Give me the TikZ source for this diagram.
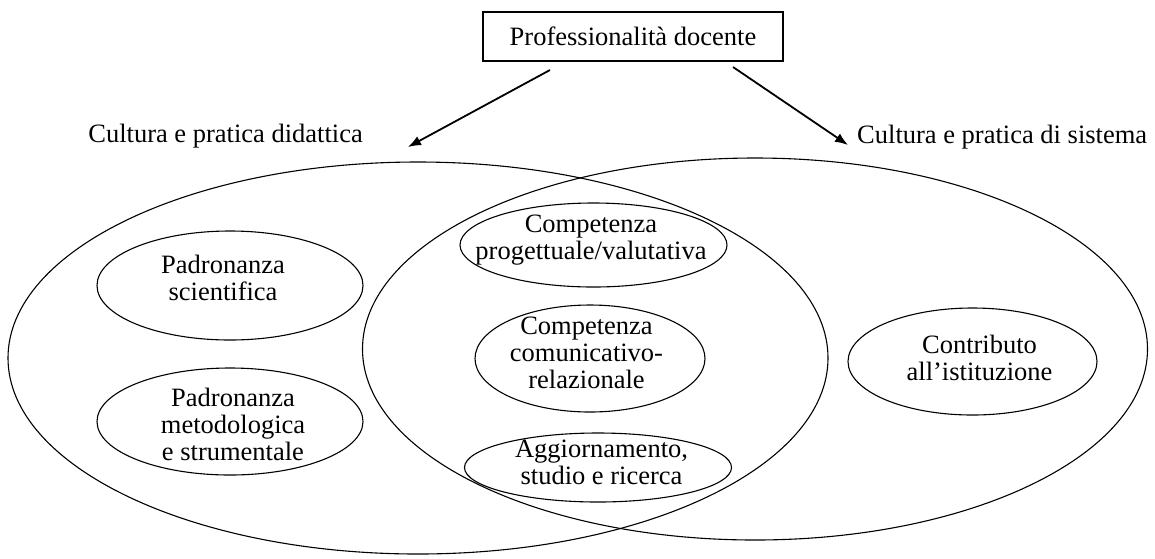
\documentclass[tikz,border=0pt]{standalone}
\usepackage{fontspec}
\setmainfont{Liberation Serif}
\usetikzlibrary{shapes.geometric,arrows.meta}
\begin{document}
\begin{tikzpicture}[x=1pt,y=-1pt,
  txt/.style={font=\fontsize{26.5}{27}\selectfont, align=center, inner sep=0pt},
  oval/.style={draw, ellipse, line width=1.1pt, inner sep=0pt},
  arr/.style={line width=1.8pt, -{Latex[length=13pt,width=10pt]}}]
\useasboundingbox (0,0) rectangle (1155,558);
% title box
\node[draw, line width=1.1pt, minimum width=300pt, minimum height=49pt, inner sep=0pt,
      font=\fontsize{26.5}{27}\selectfont] (top) at (633,36.5) {Professionalità docente};
% side labels
\node[txt, anchor=base east] (ld) at (363,142) {Cultura e pratica didattica};
\node[txt, anchor=base west] (ls) at (857,143) {Cultura e pratica di sistema};
% arrows
\coordinate (a1s) at (550,70);
\coordinate (a1e) at (408,147);
\coordinate (a2s) at (733,67);
\coordinate (a2e) at (848,145);
\draw[arr] (a1s) -- (a1e);
\draw[arr] (a2s) -- (a2e);
% big ellipses
\node[oval, minimum width=820pt, minimum height=392pt] (did) at (418,358) {};
\node[oval, minimum width=785pt, minimum height=382pt] (sis) at (755,349) {};
% small ellipses
\node[oval, minimum width=266pt, minimum height=109pt] (ps) at (230,285.5) {};
\node[oval, minimum width=266pt, minimum height=107pt] (pm) at (230,421.5) {};
\node[oval, minimum width=267pt, minimum height=84pt] (cp) at (593.5,245) {};
\node[oval, minimum width=230pt, minimum height=107pt] (cc) at (590,358.5) {};
\node[oval, minimum width=267pt, minimum height=69pt] (ag) at (598,467.5) {};
\node[oval, minimum width=249pt, minimum height=107pt] (ci) at (972.5,361.5) {};
% texts
\node[txt] (tps) at (223,278.4) {Padronanza\\scientifica};
\node[txt] (tpm) at (233,424) {Padronanza\\metodologica\\e strumentale};
\node[txt] (tcp) at (591,240.3) {Competenza\\progettuale/valutativa};
\node[txt] (tcc) at (586.5,352.5) {Competenza\\comunicativo-\\relazionale};
\node[txt] (tag) at (601.5,462.5) {Aggiornamento,\\studio e ricerca};
\node[txt] (tci) at (979.5,357.5) {Contributo\\all’istituzione};
\end{tikzpicture}
\end{document}
